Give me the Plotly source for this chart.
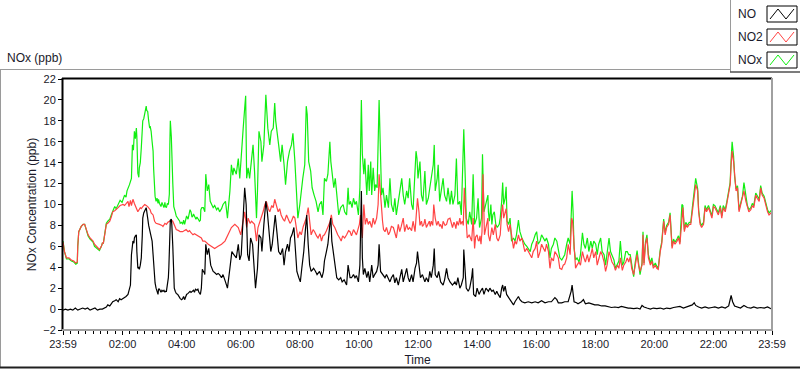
import plotly.graph_objects as go

# ---------------- data (minutes after 23:59, ppb) ----------------
no_pts = [
    (0,-0.1),(5,0.0),(10,-0.1),(15,0.0),(20,-0.1),(25,0.1),(30,-0.1),(35,0.0),(40,0.1),(45,0.0),(50,0.1),(55,-0.1),
    (60,0.0),(65,0.1),(70,-0.1),(75,0.0),(80,0.0),(85,0.1),(88,0.2),(91,0.4),(95,0.3),(98,0.5),(101,0.7),(105,0.8),
    (108,0.9),(112,0.7),(115,1.0),(118,0.9),(122,1.0),(125,1.1),(128,1.2),(132,1.4),(135,1.9),(137,2.3),(139,5.2),
    (141,6.0),(142,6.5),(144,6.3),(145,6.8),(147,7.0),(149,7.1),(150,5.5),(152,3.9),(154,4.0),(155,3.8),(157,4.2),
    (159,4.9),(161,7.0),(162,8.7),(164,9.2),(166,9.5),(168,9.6),(169,9.7),(171,9.2),(172,8.7),(174,8.0),(176,7.6),
    (177,7.4),(179,7.1),(181,6.5),(183,5.2),(184,4.2),(186,3.0),(187,2.5),(189,2.0),(191,1.7),(193,1.4),(194,1.9),
    (196,1.9),(199,1.6),(201,1.8),(203,1.7),(205,1.8),(207,1.6),(208,1.7),(210,1.7),(212,2.2),(214,3.0),(215,4.0),
    (216,5.5),(218,8.5),(220,8.6),(221,8.1),(223,6.0),(225,3.5),(226,2.0),(228,1.7),(230,1.5),(233,1.4),(235,1.3),
    (237,1.1),(238,1.0),(241,0.9),(243,1.0),(245,1.2),(247,0.9),(248,1.1),(250,1.3),(251,1.4),(254,1.5),(257,1.6),
    (258,1.7),(260,1.6),(262,1.7),(265,1.8),(267,1.6),(269,1.9),(272,1.8),(274,1.9),(276,1.6),(279,1.4),(281,2.0),
    (283,3.8),(285,3.6),(287,3.5),
    (288,3.3),(290,6.2),(293,5.2),(296,5.8),(300,4.2),(305,3.6),(308,3.5),(312,3.3),(315,3.4),(318,3.3),(322,3.0),
    (325,3.3),(330,2.6),(334,2.0),(339,3.9),(343,5.5),(347,5.2),(352,4.9),(356,6.2),(359,4.7),(362,5.2),(366,8.7),
    (369,11.6),(372,10.0),(375,5.2),(378,4.6),(381,6.8),(385,6.2),(388,4.2),(391,2.0),(395,3.9),(398,7.1),(402,6.8),
    (404,5.5),(408,8.1),(412,10.3),(415,9.3),(418,7.8),(422,5.5),(425,6.2),(429,8.1),(431,9.0),(435,7.1),(438,5.5),
    (442,5.2),(446,5.8),(449,4.2),(452,5.5),(456,6.2),(459,5.5),(462,6.8),(465,7.1),(469,7.8),(472,5.8),(475,3.6),
    (479,3.0),(482,2.6),(485,3.9),(489,5.5),(492,7.4),(495,9.0),(498,6.2),(501,4.2),(504,3.6),(509,3.9),(513,3.6),
    (516,3.3),(521,3.6),(526,3.0),(529,3.6),(531,4.6),(535,5.5),(538,6.2),(542,8.1),(544,8.7),(546,6.5),(550,4.9),
    (553,4.2),(556,3.0),(560,2.8),(564,3.0),(567,2.6),(571,2.8),
    (576,2.3),(579,4.2),(583,3.0),(586,3.0),(590,3.3),(593,3.0),(596,3.2),(600,2.6),(603,4.2),(606,11.3),(608,4.9),
    (610,3.3),(613,3.9),(617,3.0),(620,3.6),(623,2.6),(627,4.2),(630,3.0),(633,3.3),(637,3.6),(640,4.2),(642,6.2),
    (645,3.6),(649,3.3),(654,3.0),(657,3.3),(661,2.8),(664,2.6),(667,3.0),(671,3.3),(674,2.5),(677,3.0),(681,2.3),
    (684,3.0),(688,3.8),(691,2.6),(694,3.3),(698,3.9),(701,3.0),(704,2.6),(708,3.3),(711,2.6),(715,3.9),(718,4.4),
    (720,5.5),(723,4.2),(726,3.0),(730,3.3),(735,2.6),(738,3.0),(742,2.6),(745,3.6),(748,3.0),(752,4.2),(754,5.8),
    (756,3.3),(760,3.0),(763,3.6),(767,2.6),(772,2.3),(775,2.8),(779,3.9),(782,3.0),(786,2.6),(791,2.3),(796,2.6),
    (799,2.3),(802,3.0),(806,2.0),(809,2.3),(813,3.0),(814,5.7),(817,3.0),(819,2.0),(823,1.7),(826,2.0),(830,3.0),
    (832,3.9),(834,1.4),(838,1.2),(841,2.0),(845,1.4),(848,1.7),(852,2.0),(855,1.4),(859,2.0),
    (864,1.7),(867,2.0),(871,1.7),(874,1.8),(878,1.4),(881,1.7),(884,1.4),(888,1.1),(891,2.0),(893,2.3),(895,1.7),
    (898,2.2),(901,1.4),(905,1.1),(908,0.9),(911,0.7),(915,0.4),(918,0.7),(921,0.9),(925,1.2),(928,0.9),(932,0.7),
    (938,0.6),(945,0.7),(952,0.6),(959,0.7),(965,0.6),(972,0.8),(979,0.6),(986,0.7),(992,0.7),(999,1.1),(1003,0.9),
    (1006,0.6),(1013,0.6),(1019,0.7),(1026,0.7),(1032,1.7),(1034,2.3),(1036,1.1),(1038,0.7),(1043,0.6),(1046,0.5),
    (1053,0.7),(1057,0.9),(1061,0.5),(1068,0.6),(1074,0.5),(1080,0.4),(1087,0.4),(1094,0.3),(1101,0.3),(1107,0.25),
    (1114,0.15),(1121,0.2),(1128,0.15),(1134,0.25),(1141,0.15),(1148,0.1),
    (1152,0.1),(1159,0.05),(1166,0.1),(1172,0.0),(1176,0.35),(1180,0.2),(1186,0.1),(1193,0.0),(1199,0.1),(1206,0.05),
    (1213,0.1),(1220,0.0),(1226,0.1),(1233,0.05),(1240,0.15),(1247,0.2),(1253,0.25),(1260,0.1),(1266,0.2),(1272,0.3),
    (1278,0.4),(1282,0.6),(1285,0.35),(1291,0.2),(1297,0.1),(1304,0.2),(1311,0.1),(1318,0.15),(1324,0.2),(1331,0.1),
    (1338,0.2),(1345,0.1),(1348,0.2),(1352,0.3),(1357,1.3),(1360,0.7),(1364,0.3),(1370,0.2),(1376,0.1),(1383,0.35),
    (1390,0.15),(1397,0.1),(1403,0.2),(1410,0.1),(1417,0.15),(1424,0.1),(1431,0.2),(1437,0.05),(1440,0.0),
]

no2_pts = [
    (0,6.4),(3,5.5),(7,4.9),(12,4.9),(17,4.7),(22,4.6),(26,4.4),(29,4.5),(30,6.0),(32,7.4),(37,7.9),(41,8.1),(44,8.1),
    (47,7.6),(51,7.1),(55,6.8),(61,6.5),(64,6.2),(68,6.0),(74,5.7),(78,6.0),(80,6.3),(82,6.3),(87,7.6),(88,8.1),
    (91,8.2),(95,8.4),(98,8.8),(101,9.3),(105,9.4),(108,9.5),(112,9.7),(116,9.9),(122,10.0),(125,9.9),(128,10.1),
    (132,10.3),(134,9.8),(137,10.4),(139,9.9),(142,10.5),(145,10.1),(150,9.5),(152,9.3),(157,9.7),(159,9.6),(162,9.8),
    (166,10.0),(169,9.9),(172,9.8),(177,9.5),(179,9.2),(183,9.0),(186,8.4),(189,8.2),(193,8.1),(196,8.1),(201,8.0),
    (203,7.9),(207,8.2),(210,8.1),(213,8.3),(216,8.4),(220,8.5),(223,8.4),(226,8.0),(230,7.6),(235,7.5),(238,7.4),
    (243,7.4),(247,7.5),(250,7.6),(254,7.4),(257,7.5),(260,7.3),(264,7.1),(267,7.2),(270,7.1),(274,7.0),(277,6.9),
    (281,6.8),(284,6.5),
    (288,6.5),(295,6.2),(302,6.0),(308,5.8),(315,6.0),(322,6.2),(329,6.5),(335,7.1),(342,7.8),(349,8.1),(356,7.8),
    (361,7.1),(366,8.4),(369,9.3),(373,7.8),(376,8.7),(380,8.2),(383,8.4),(389,8.1),(393,6.5),(396,7.8),(400,8.4),
    (403,8.7),(407,9.4),(410,10.0),(413,10.3),(417,9.6),(420,9.3),(424,9.9),(427,9.7),(430,10.5),(433,10.0),(437,9.3),
    (440,9.6),(443,9.0),(447,8.6),(450,8.4),(454,9.0),(457,8.7),(461,8.2),(464,8.4),(468,8.9),(471,8.7),(474,7.8),
    (477,6.8),(481,7.4),(484,7.1),(488,7.9),(491,8.4),(494,8.7),(498,9.7),(501,8.1),(504,7.1),(508,7.6),(511,7.4),
    (515,7.0),(518,6.8),(522,7.2),(525,6.5),(528,7.0),(531,7.1),(535,7.5),(538,7.8),(542,8.3),(545,9.0),(548,8.1),
    (552,7.8),(555,7.4),(558,7.1),(562,6.8),(565,6.5),(568,7.0),(572,6.8),
    (576,7.1),(580,7.5),(583,7.4),(586,7.0),(590,7.6),(593,7.3),(596,7.1),(599,7.6),(602,8.1),(604,9.0),(606,7.4),
    (608,6.8),(611,10.0),(614,8.1),(617,8.7),(620,8.1),(623,8.4),(627,7.8),(630,8.7),(633,8.1),(637,8.7),(640,10.0),
    (642,12.9),(645,10.6),(649,8.4),(651,7.6),(654,7.4),(657,7.8),(659,7.3),(661,7.1),(664,7.4),(667,7.9),(671,7.8),
    (674,7.2),(677,6.8),(681,8.1),(684,7.4),(687,7.9),(691,8.7),(694,7.4),(698,8.1),(701,7.6),(704,7.8),(708,7.5),
    (711,8.4),(715,7.4),(718,9.7),(720,10.6),(723,9.3),(725,8.0),(728,8.4),(730,7.9),(733,8.1),(735,8.6),(738,7.8),
    (741,8.2),(744,8.4),(746,7.9),(748,8.4),(751,8.0),(753,10.0),(756,8.7),(759,8.0),(762,8.4),(765,7.9),(767,8.1),
    (770,7.7),(772,8.4),(776,8.0),(779,8.1),(782,8.6),(786,8.7),(789,8.0),(791,7.8),(794,8.3),(796,8.1),(798,7.7),
    (800,8.4),(803,8.0),(806,8.7),(808,8.1),(811,8.4),(813,8.0),(815,11.6),(817,10.0),(819,7.5),(821,6.8),(825,7.1),
    (828,6.7),(830,6.5),(833,8.7),(836,5.8),(838,6.9),(841,7.1),(843,6.6),(845,6.5),(847,7.0),(849,6.2),(851,7.4),
    (853,12.9),(856,7.1),(858,7.6),(860,8.1),(863,8.7),
    (864,7.1),(867,6.5),(871,7.8),(874,7.1),(878,8.1),(881,6.8),(884,6.5),(888,7.1),(891,9.3),(893,10.0),(895,8.7),
    (898,9.3),(900,9.6),(902,8.1),(905,7.4),(908,8.1),(911,7.1),(915,5.8),(918,6.5),(921,6.2),(925,7.1),(928,6.5),
    (932,6.8),(935,6.2),(938,5.5),(942,5.8),(945,5.5),(949,5.2),(952,4.9),(955,5.5),(959,5.8),(962,6.5),(965,4.9),
    (969,5.5),(972,6.2),(976,5.8),(979,5.5),(982,6.2),(986,5.5),(989,3.9),(992,4.9),(996,4.6),(999,5.5),(1003,5.2),
    (1006,4.9),(1009,3.9),(1013,3.8),(1016,4.2),(1019,4.3),(1023,4.9),(1026,6.2),(1030,5.2),(1032,8.0),(1033,8.7),
    (1035,8.4),(1038,5.5),(1041,3.9),(1044,4.2),(1048,4.5),(1051,4.2),(1055,5.5),(1058,4.9),(1061,4.5),(1065,5.2),
    (1068,4.5),(1072,5.2),(1075,5.8),(1078,4.9),(1082,5.5),(1085,4.2),(1088,4.9),(1092,5.5),(1095,5.2),(1099,4.5),
    (1102,3.6),(1105,4.2),(1109,5.5),(1112,4.9),(1115,4.5),(1119,4.2),(1122,3.7),(1126,4.2),(1129,3.9),(1132,4.9),
    (1136,3.7),(1139,4.2),(1143,4.5),(1146,4.9),(1149,4.5),
    (1152,5.0),(1155,3.9),(1159,3.3),(1162,4.2),(1166,5.2),(1169,4.2),(1172,3.6),(1176,4.2),(1178,7.1),(1180,4.2),
    (1183,6.2),(1186,6.8),(1189,4.9),(1193,4.2),(1196,4.6),(1199,3.9),(1203,4.2),(1206,3.9),(1209,3.8),(1213,5.5),
    (1216,6.2),(1220,8.4),(1223,7.1),(1226,7.8),(1230,8.1),(1233,9.0),(1237,5.8),(1240,6.5),(1243,6.2),(1247,6.5),
    (1250,6.8),(1253,6.2),(1257,8.7),(1259,9.7),(1262,7.4),(1265,8.1),(1268,7.8),(1272,8.1),(1275,8.1),(1278,9.3),
    (1282,11.3),(1285,11.9),(1289,11.3),(1291,9.3),(1294,8.1),(1297,7.8),(1301,8.1),(1304,9.7),(1307,9.3),(1311,9.7),
    (1314,9.3),(1318,8.7),(1321,9.8),(1324,9.7),(1328,9.3),(1331,9.0),(1335,9.7),(1338,8.7),(1341,9.7),(1345,9.3),
    (1348,10.0),(1351,10.9),(1355,11.9),(1357,13.8),(1359,15.1),(1362,14.1),(1364,12.5),(1367,11.3),(1370,11.6),
    (1373,9.3),(1376,9.9),(1380,10.6),(1383,11.3),(1387,10.3),(1390,9.7),(1393,9.3),(1397,9.5),(1400,9.9),(1403,9.7),
    (1407,10.9),(1410,10.6),(1414,10.3),(1417,11.6),(1420,10.9),(1424,10.6),(1427,9.9),(1431,9.3),(1434,9.0),
    (1437,9.2),(1440,9.3),
]

nox_pts = [
    (0,6.5),(3,5.5),(7,4.8),(12,4.8),(17,4.6),(22,4.5),(26,4.3),(29,4.4),(30,6.0),(32,7.4),(37,7.9),(41,8.1),(44,8.1),
    (47,7.6),(51,7.0),(55,6.7),(61,6.4),(64,6.0),(68,5.8),(74,5.6),(78,6.0),(80,6.3),(82,6.3),(87,7.6),(88,8.2),
    (91,8.4),(95,8.6),(98,9.0),(101,9.4),(105,9.8),(108,9.6),(112,10.1),(116,10.4),(120,10.2),(122,10.5),(125,10.9),
    (128,10.7),(130,11.3),(135,11.9),(137,12.2),(139,12.5),(141,15.7),(143,15.2),(145,17.0),(147,16.3),(149,17.3),
    (150,16.5),(152,13.0),(154,12.6),(155,13.5),(157,14.0),(159,15.4),(161,17.0),(162,18.0),(164,18.2),(166,18.6),
    (168,19.0),(169,19.4),(170,19.0),(172,18.9),(174,18.0),(176,17.3),(177,17.5),(179,17.0),(181,16.0),(183,15.1),
    (184,13.5),(186,11.6),(187,10.8),(189,10.3),(191,10.6),(193,10.1),(194,10.5),(196,10.1),(199,9.8),(201,10.2),
    (203,9.8),(205,9.7),(207,10.2),(208,9.8),(210,9.7),(212,10.1),(214,10.0),(216,11.0),(217,15.7),(218,18.0),
    (220,16.5),(221,13.8),(223,12.0),(225,9.8),(226,9.5),(228,9.3),(230,8.9),(233,8.7),(235,8.5),(237,8.4),(238,8.2),
    (241,8.3),(243,8.1),(245,8.5),(247,8.1),(250,8.7),(251,8.9),(254,8.6),(257,9.3),(258,9.5),(260,9.3),(262,8.8),
    (264,8.9),(265,9.1),(267,8.9),(268,8.7),(270,8.6),(272,8.8),(274,8.7),(276,8.5),(277,8.4),(279,8.5),(280,9.5),
    (282,9.7),(285,9.7),
    (288,9.3),(290,12.9),(293,11.3),(296,11.9),(299,10.3),(302,10.0),(305,9.7),(308,9.9),(312,9.5),(315,9.7),
    (318,9.3),(322,9.6),(325,10.0),(330,10.3),(334,8.7),(339,11.3),(342,13.8),(345,12.8),(347,13.5),(352,12.9),
    (356,14.4),(359,12.5),(362,15.1),(366,17.3),(369,19.2),(371,20.4),(373,12.5),(376,13.5),(379,12.5),(383,14.8),
    (386,15.7),(389,13.2),(393,8.7),(395,11.3),(398,17.0),(402,16.0),(404,14.1),(408,15.7),(412,20.5),(414,18.9),
    (416,17.3),(420,15.7),(423,17.0),(427,17.3),(430,19.7),(432,18.0),(435,17.0),(438,15.7),(442,14.1),(445,15.7),
    (449,13.8),(452,11.9),(456,14.1),(460,15.1),(464,15.7),(467,16.8),(471,14.1),(474,11.6),(477,8.7),(481,10.0),
    (484,11.6),(487,12.5),(491,13.8),(494,19.4),(496,18.6),(499,14.1),(503,13.2),(506,11.6),(510,10.9),(514,10.3),
    (518,9.3),(521,10.0),(525,10.3),(528,9.0),(531,12.5),(535,12.2),(538,12.9),(542,16.0),(544,14.1),(546,13.2),
    (550,11.6),(553,12.5),(557,10.0),(560,9.0),(564,9.7),(569,10.0),(572,9.3),
    (576,9.0),(579,11.6),(581,10.0),(584,10.3),(587,9.7),(590,10.6),(593,10.0),(596,10.3),(600,9.0),(603,11.6),
    (606,20.0),(608,14.8),(611,12.9),(613,14.4),(617,10.9),(620,13.8),(622,11.3),(625,14.1),(627,10.9),(630,13.5),
    (633,11.3),(635,11.9),(638,11.6),(642,20.0),(644,16.7),(647,10.9),(650,11.6),(654,9.7),(657,10.9),(661,9.7),
    (664,12.5),(667,10.0),(671,9.3),(674,10.6),(677,9.0),(681,10.3),(684,11.6),(688,12.5),(691,10.9),(694,10.0),
    (698,11.3),(701,10.6),(704,12.5),(708,10.0),(711,9.5),(715,13.8),(717,15.1),(719,14.4),(721,12.5),(725,14.1),
    (728,10.9),(731,10.3),(735,13.2),(738,10.0),(742,10.6),(745,11.6),(748,12.5),(752,13.8),(754,15.7),(756,11.3),
    (760,12.5),(762,13.8),(765,10.3),(769,11.6),(772,12.5),(775,10.9),(779,10.3),(782,11.6),(786,10.0),(789,11.3),
    (792,10.0),(796,10.9),(799,14.4),(802,10.0),(806,10.3),(809,9.0),(813,14.1),(814,17.2),(817,12.5),(819,8.7),
    (823,8.1),(826,9.3),(830,8.1),(833,12.9),(836,8.1),(840,8.7),(843,10.6),(846,7.8),(850,8.7),(852,14.8),(855,9.3),
    (859,10.0),(863,10.9),
    (864,9.3),(866,8.4),(869,10.0),(871,8.1),(873,9.0),(876,9.3),(879,8.1),(882,7.8),(886,8.1),(888,8.7),(891,10.3),
    (893,12.1),(895,10.0),(898,10.6),(900,11.7),(902,8.4),(905,8.1),(908,8.7),(911,6.5),(915,6.8),(918,6.5),(921,7.1),
    (925,8.5),(928,7.4),(932,6.8),(935,6.5),(938,6.2),(942,6.0),(945,5.8),(949,5.5),(952,6.2),(955,6.5),(959,7.1),
    (962,7.4),(965,6.2),(969,6.5),(972,7.1),(976,6.8),(979,6.5),(982,6.8),(986,6.2),(989,4.9),(992,5.8),(996,6.2),
    (999,6.8),(1003,6.5),(1006,5.5),(1009,4.9),(1013,4.7),(1016,4.9),(1019,5.2),(1023,6.2),(1026,6.8),(1030,6.2),
    (1032,10.3),(1034,11.3),(1036,9.3),(1038,5.8),(1041,4.7),(1044,4.9),(1048,4.5),(1051,5.2),(1055,7.3),(1058,6.2),
    (1061,5.8),(1065,6.8),(1068,5.5),(1072,6.5),(1075,5.8),(1078,6.5),(1082,6.2),(1085,5.2),(1088,6.2),(1092,6.8),
    (1095,5.5),(1099,5.2),(1102,4.2),(1105,5.2),(1109,6.8),(1112,5.5),(1115,5.2),(1119,4.7),(1122,3.9),(1126,4.4),
    (1129,4.6),(1132,6.5),(1136,4.2),(1139,4.5),(1143,5.5),(1146,5.5),(1149,5.2),
    (1152,5.2),(1155,4.1),(1159,3.1),(1162,4.4),(1166,5.6),(1169,4.4),(1172,3.3),(1176,4.4),(1178,7.4),(1180,4.4),
    (1183,6.4),(1186,7.1),(1189,5.2),(1193,4.4),(1196,4.9),(1199,4.1),(1203,4.4),(1206,4.1),(1209,3.9),(1213,5.7),
    (1216,6.4),(1220,8.6),(1223,7.3),(1226,8.0),(1230,8.3),(1233,9.2),(1237,6.0),(1240,6.7),(1243,6.4),(1247,6.7),
    (1250,7.0),(1253,6.4),(1257,10.0),(1259,9.9),(1262,7.6),(1265,8.3),(1268,8.0),(1272,8.3),(1275,8.3),(1278,9.6),
    (1282,11.6),(1285,12.5),(1289,11.5),(1291,9.5),(1294,8.3),(1297,8.0),(1301,8.3),(1304,9.9),(1307,9.5),(1311,9.9),
    (1314,9.5),(1318,8.9),(1321,10.0),(1324,9.9),(1328,9.5),(1331,9.2),(1335,9.9),(1338,8.9),(1341,9.9),(1345,9.5),
    (1348,10.2),(1351,11.1),(1355,12.1),(1357,14.3),(1359,16.0),(1362,14.6),(1364,12.7),(1367,11.5),(1370,11.8),
    (1373,9.5),(1376,10.1),(1380,10.8),(1383,12.1),(1387,10.5),(1390,9.9),(1393,9.5),(1397,9.7),(1400,10.1),
    (1403,9.9),(1407,11.1),(1410,10.8),(1414,10.5),(1417,11.8),(1420,11.1),(1424,10.8),(1427,10.1),(1431,9.5),
    (1434,9.2),(1437,9.4),(1440,9.5),
]

tick_minutes = [0, 121, 241, 361, 481, 601, 721, 841, 961, 1081, 1201, 1321, 1440]
tick_labels = ["23:59", "02:00", "04:00", "06:00", "08:00", "10:00", "12:00",
               "14:00", "16:00", "18:00", "20:00", "22:00", "23:59"]
series_names = ["NO", "NO2", "NOx"]
series_colors = ["#000000", "#ff4444", "#11ee11"]

t_no = [p[0] for p in no_pts]; v_no = [p[1] for p in no_pts]
t_no2 = [p[0] for p in no2_pts]; v_no2 = [p[1] for p in no2_pts]
t_nox = [p[0] for p in nox_pts]; v_nox = [p[1] for p in nox_pts]

# ---------------- figure ----------------
W, H = 800, 369
L, R, T, B = 63, 772, 79, 330
FONT = "Liberation Sans"
TXT = "#1a1a2a"


def fx(px):
    return (px - L) / (R - L)


def fy(py):
    return (B - py) / (B - T)


fig = go.Figure()
fig.add_trace(go.Scatter(x=t_nox, y=v_nox, name=series_names[2], mode="lines",
                         line=dict(color=series_colors[2], width=1.2), showlegend=False))
fig.add_trace(go.Scatter(x=t_no2, y=v_no2, name=series_names[1], mode="lines",
                         line=dict(color=series_colors[1], width=1.2), showlegend=False))
fig.add_trace(go.Scatter(x=t_no, y=v_no, name=series_names[0], mode="lines",
                         line=dict(color=series_colors[0], width=1.2), showlegend=False))

shapes = []


def hline(x0, x1, y, color, w):
    shapes.append(dict(type="line", xref="paper", yref="paper", x0=fx(x0), x1=fx(x1),
                       y0=fy(y), y1=fy(y), line=dict(color=color, width=w)))


def vline(x, y0, y1, color, w):
    shapes.append(dict(type="line", xref="paper", yref="paper", x0=fx(x), x1=fx(x),
                       y0=fy(y0), y1=fy(y1), line=dict(color=color, width=w)))


# outer panel
hline(0, 730, 69.5, "#9a9a9a", 1)
vline(0.5, 69, 367, "#9a9a9a", 1)
hline(0, 800, 367.5, "#202020", 2)
# legend panel
vline(730.5, 0, 72, "#9a9a9a", 1)
hline(730, 800, 72, "#505050", 1.5)
# plot frame
hline(62, 772, 78.5, "#000000", 2)
vline(62.5, 78, 331, "#000000", 2)
vline(772, 78, 331, "#a0a0a0", 2)
hline(62, 773, 330, "#a0a0a0", 2)

annotations = [
    dict(text="NOx (ppb)", xref="paper", yref="paper", x=fx(5), y=fy(58), xanchor="left",
         yanchor="middle", showarrow=False, font=dict(family=FONT, size=12, color=TXT)),
]

legend_rows = [14, 37, 60]
for name, color, cy in zip(series_names, series_colors, legend_rows):
    annotations.append(dict(text=name, xref="paper", yref="paper", x=fx(736), y=fy(cy),
                            xanchor="left", yanchor="middle", showarrow=False,
                            font=dict(family=FONT, size=12, color=TXT)))
    bx0, bx1, by0, by1 = 767, 797, cy - 8, cy + 8
    shapes.append(dict(type="rect", xref="paper", yref="paper", x0=fx(bx0), x1=fx(bx1),
                       y0=fy(by1), y1=fy(by0), line=dict(color="#000000", width=1),
                       fillcolor="white"))
    pts = [(bx0 + 3, by1 - 3), (bx0 + 11, by0 + 3), (bx0 + 19, by1 - 3), (bx0 + 27, by0 + 3)]
    path = "M " + " L ".join(f"{fx(a):.5f},{fy(b):.5f}" for a, b in pts)
    shapes.append(dict(type="path", xref="paper", yref="paper", path=path,
                       line=dict(color=color, width=1)))

fig.update_layout(
    width=W, height=H,
    margin=dict(l=L, r=W - R, t=T, b=H - B, autoexpand=False),
    paper_bgcolor="white", plot_bgcolor="white",
    font=dict(family=FONT, size=11, color=TXT),
    shapes=shapes, annotations=annotations,
    xaxis=dict(range=[0, 1440], tickmode="array", tickvals=tick_minutes, ticktext=tick_labels,
               automargin=False,
               ticks="outside", ticklen=4, tickcolor="#000000", showgrid=False, zeroline=False,
               showline=False, tickfont=dict(family=FONT, size=11, color=TXT),
               minor=dict(tick0=1, dtick=15, ticks="outside", ticklen=3, tickcolor="#000000",
                          showgrid=False),
               title=dict(text="Time", font=dict(family=FONT, size=12, color=TXT), standoff=6)),
    yaxis=dict(range=[-2, 22], dtick=2, tick0=0, ticks="outside", ticklen=4, tickcolor="#000000",
               automargin=False,
               showgrid=False, zeroline=False, showline=False,
               tickfont=dict(family=FONT, size=11, color=TXT),
               title=dict(text="NOx Concentration (ppb)",
                          font=dict(family=FONT, size=12, color=TXT), standoff=4)),
)

fig.write_html("out.html", config={"displayModeBar": False},
               post_script="document.body.style.margin='0';document.body.style.padding='0';"
                           "document.body.style.overflow='hidden';")
